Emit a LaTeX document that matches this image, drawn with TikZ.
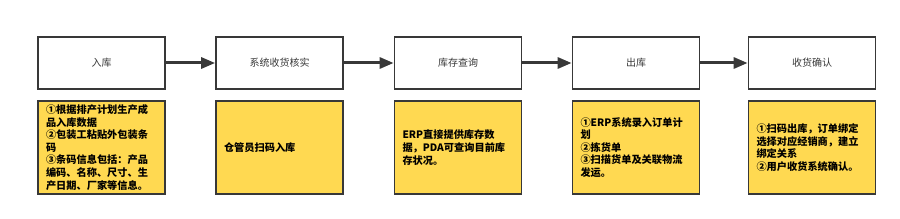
\documentclass[tikz,border=0pt]{standalone}
\usepackage{fontspec}
\setmainfont{Noto Sans CJK SC}
\usetikzlibrary{arrows.meta}

\definecolor{edgegray}{HTML}{383838}
\definecolor{notefill}{HTML}{FFD951}

\tikzset{
  stagebox/.style={draw=edgegray, line width=1.7pt, fill=white, minimum width=127pt,
    minimum height=52pt, font=\fontsize{10}{12}\selectfont, text=edgegray},
  notebox/.style={draw=edgegray, line width=1.7pt, fill=notefill, minimum width=127pt,
    minimum height=93pt, text width=111pt, align=left,
    font=\fontsize{10.2}{12.6}\selectfont\bfseries},
  flow/.style={-{Triangle[length=14pt, width=11pt]}, draw=edgegray, line width=3pt}
}

\begin{document}
\begin{tikzpicture}[x=1pt, y=-1pt]
\useasboundingbox (0,0) rectangle (900,219);

% --- process stages ---
\node[stagebox] (s1) at (101.5, 63) {入库};
\node[stagebox] (s2) at (279.5, 63) {系统收货核实};
\node[stagebox] (s3) at (458, 63) {库存查询};
\node[stagebox] (s4) at (636, 63) {出库};
\node[stagebox] (s5) at (812, 63) {收货确认};

% --- arrows between stages ---
\draw[flow] (s1) -- (s2);
\draw[flow] (s2) -- (s3);
\draw[flow] (s3) -- (s4);
\draw[flow] (s4) -- (s5);

% --- notes below each stage ---
\node[notebox] (n1) at (101.5, 147.5) {①根据排产计划生产成\\品入库数据\\②包装工粘贴外包装条\\码\\③条码信息包括：产品\\编码、名称、尺寸、生\\产日期、厂家等信息。};
\node[notebox] (n2) at (279.5, 147.5) {仓管员扫码入库};
\node[notebox] (n3) at (458, 147.5) {ERP直接提供库存数\\据，PDA可查询目前库\\存状况。};
\node[notebox] (n4) at (636, 147.5) {①ERP系统录入订单计\\划\\②拣货单\\③扫描货单及关联物流\\发运。};
\node[notebox] (n5) at (812, 147.5) {①扫码出库，订单绑定\\选择对应经销商，建立\\绑定关系\\②用户收货系统确认。};

\end{tikzpicture}
\end{document}
